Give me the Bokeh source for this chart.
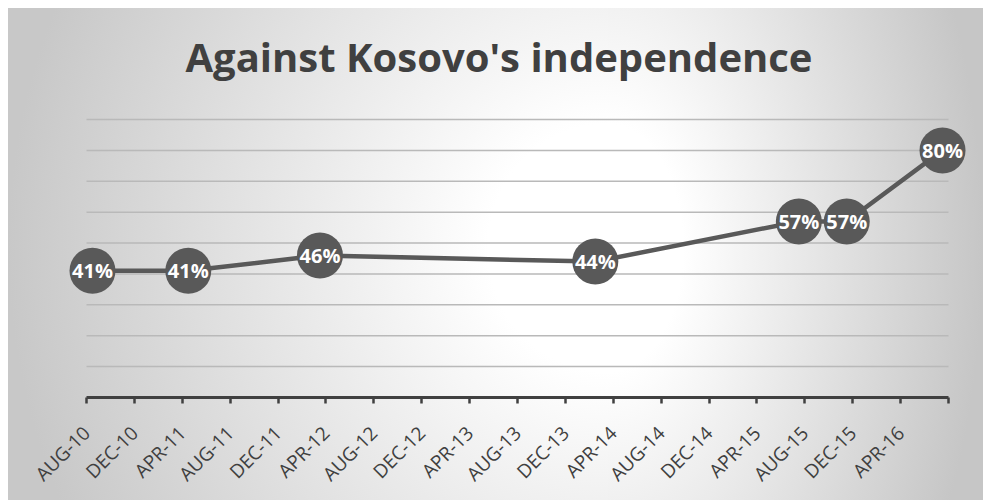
import math
from bokeh.plotting import figure
from bokeh.models import Range1d, FixedTicker, LinearAxis, Label, ColumnDataSource
from bokeh.core.properties import value
from bokeh.embed import file_html
from bokeh.resources import INLINE

# ---- data ----
survey_dates = ["2010-08", "2011-04", "2012-03", "2014-02", "2015-07", "2015-11", "2016-07"]
against_pct = [41, 41, 46, 44, 57, 57, 80]
tick_labels = ["AUG-10", "DEC-10", "APR-11", "AUG-11", "DEC-11", "APR-12", "AUG-12", "DEC-12",
               "APR-13", "AUG-13", "DEC-13", "APR-14", "AUG-14", "DEC-14", "APR-15", "AUG-15",
               "DEC-15", "APR-16", ""]
grid_levels = [10, 20, 30, 40, 50, 60, 70, 80, 90]
title_text = "Against Kosovo's independence"

AXIS_START = (2010, 8)
MONTHS_PER_TICK = 4


def month_index(s):
    y, m = map(int, s.split("-"))
    return (y - AXIS_START[0]) * 12 + (m - AXIS_START[1])


x_pos = [month_index(d) + 0.5 for d in survey_dates]   # centre of each month bin
n_months = MONTHS_PER_TICK * (len(tick_labels) - 1)
tick_pos = list(range(0, n_months + 1, MONTHS_PER_TICK))
labels = [f"{v}%" for v in against_pct]

src = ColumnDataSource(dict(x=x_pos, y=against_pct, lab=labels))

FRAME_W, FRAME_H = 983, 389
TOP, BOTTOM = 8, 103
px_per_month = 862 / n_months
x0 = -86 / px_per_month
x1 = x0 + FRAME_W / px_per_month
px_per_pct = 278 / 90
y1 = FRAME_H / px_per_pct

p = figure(frame_width=FRAME_W, frame_height=FRAME_H,
           x_range=Range1d(x0, x1), y_range=Range1d(0, y1),
           output_backend="svg", toolbar_location=None,
           x_axis_location=None, y_axis_location=None,
           min_border_left=0, min_border_right=0, min_border_top=TOP, min_border_bottom=BOTTOM,
           background_fill_color=None, border_fill_color=None, outline_line_color=None)
p.grid.visible = False

p.styles = {
    "background": (
        "radial-gradient(600px 620px at 600px 240px, #ffffff 0%, #ffffff 20%, #c8c8c8 100%) "
        "8px 8px / 600px 492px no-repeat, "
        "radial-gradient(375px 620px at 0px 240px, #ffffff 0%, #ffffff 20%, #c6c6c6 100%) "
        "608px 8px / 375px 492px no-repeat, #ffffff"
    )
}

# horizontal gridlines spanning the date axis
p.segment(x0=[0] * len(grid_levels), x1=[n_months] * len(grid_levels),
          y0=grid_levels, y1=grid_levels, line_color="#b9b9b9", line_width=1.5)

# x axis
xaxis = LinearAxis(ticker=FixedTicker(ticks=tick_pos), bounds=(0, n_months),
                   major_label_overrides={t: l for t, l in zip(tick_pos, tick_labels)})
xaxis.axis_line_color = "#404040"
xaxis.axis_line_width = 3
xaxis.major_tick_line_color = "#404040"
xaxis.major_tick_line_width = 2.5
xaxis.major_tick_in = 0
xaxis.major_tick_out = 6
xaxis.minor_tick_line_color = None
xaxis.major_label_orientation = math.pi / 4
xaxis.major_label_text_font = "Open Sans"
xaxis.major_label_text_font_size = "19px"
xaxis.major_label_text_color = "#404040"
xaxis.major_label_standoff = 26
p.add_layout(xaxis, "below")

# series
p.line("x", "y", source=src, line_color="#595959", line_width=4.5)
p.scatter("x", "y", source=src, size=46, fill_color="#595959", line_color=None)
p.text("x", "y", text="lab", source=src, text_font=value("Open Sans"), text_font_style="bold",
       text_font_size="20px", text_color="white", text_align="center", text_baseline="middle")

# title
title = Label(x=(498.5 - 86) / px_per_month, y=(397 - 55.5) / px_per_pct, text=title_text,
              text_font="Open Sans", text_font_style="bold", text_font_size="40px",
              text_color="#404040", text_align="center", text_baseline="alphabetic")
p.add_layout(title)

open("out.html", "w").write(file_html(p, INLINE))
